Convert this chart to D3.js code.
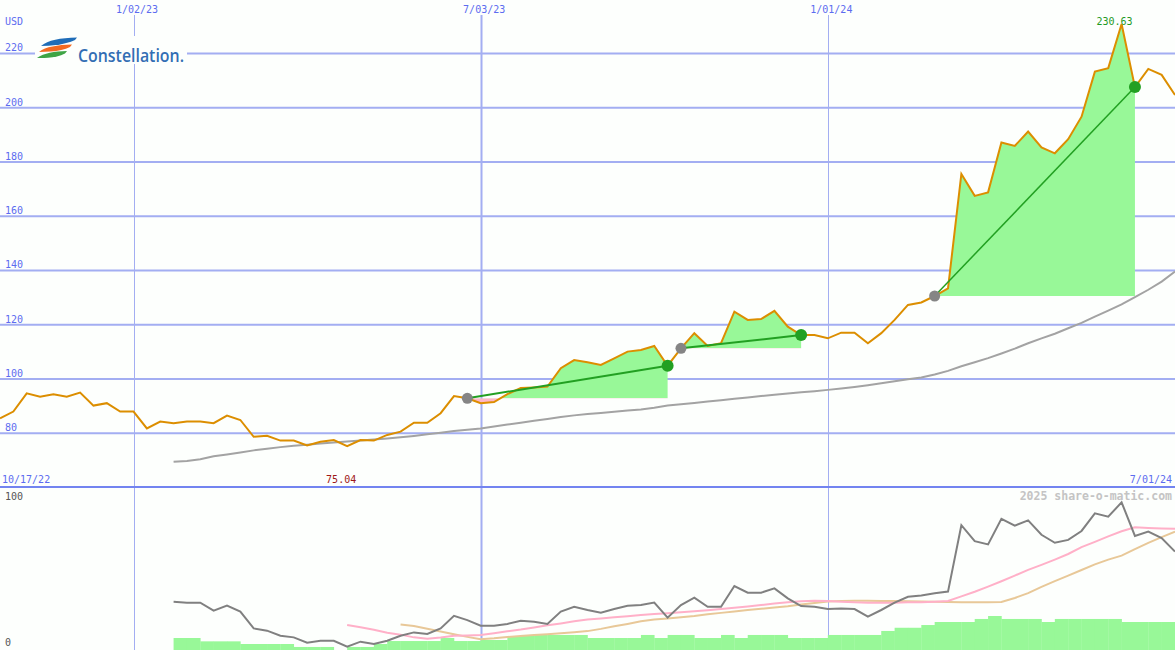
<!DOCTYPE html>
<html><head><meta charset="utf-8">
<script src="https://cdn.jsdelivr.net/npm/d3@7"></script>
<style>html,body{margin:0;padding:0;background:#fdfffd;}svg{display:block;}</style>
</head><body><svg id="c" width="1175" height="650"></svg>
<script>
// ---------- data ----------
const startDate = new Date(2022, 9, 24);
const weekCount = 89;
const price = [85.3,87.8,94.5,93.3,94.2,93.3,94.8,90.0,90.9,87.8,87.8,81.6,84.1,83.5,84.1,84.1,83.5,86.3,84.7,78.5,
  78.9,77.1,77.1,75.3,76.7,77.3,75.04,77.3,77.1,79.2,80.4,83.7,83.7,87.2,93.5,92.7,90.9,91.3,94.2,96.5,
  96.7,97.0,103.8,106.8,106.0,105.0,107.4,109.9,110.5,112.0,104.7,111.1,116.7,112.0,113.0,124.6,121.6,121.9,124.9,119.1,
  116.0,116.0,114.8,116.9,116.9,113.0,116.7,121.6,127.1,128.0,130.4,133.2,175.4,167.3,168.6,187.0,185.7,191.0,185.2,183.0,
  188.2,196.5,213.1,214.4,230.63,207.4,214.1,211.9,204.5];
const movingAvg = [null,null,null,null,null,null,null,null,null,null,null,null,null,
  69.3,69.6,70.2,71.3,72.0,72.7,73.5,74.1,74.7,75.2,75.6,76.0,76.4,76.8,77.1,77.5,77.9,
  78.3,78.8,79.4,80.0,80.6,81.1,81.6,82.3,83.0,83.7,84.4,85.1,85.8,86.4,86.9,87.3,87.7,88.2,88.6,89.2,
  90.0,90.5,91.0,91.5,92.0,92.5,93.0,93.5,94.0,94.5,94.9,95.3,95.8,96.3,96.9,97.5,98.2,99.0,99.7,100.4,
  101.5,102.8,104.5,106.0,107.5,109.2,111.0,113.0,114.8,116.5,118.5,120.5,122.8,125.0,127.3,130.0,132.7,135.7,139.4];
const buyIdx = [35, 51, 70];
const sellIdx = [50, 60, 85];
const oscillator = [null,null,null,null,null,null,null,null,null,null,null,null,null,
  30.2,29.6,29.6,24.6,27.7,24.0,13.5,12.1,8.9,7.9,4.6,5.8,5.8,2.1,5.2,3.8,5.8,
  8.9,11.0,10.0,13.5,21.4,18.7,15.2,15.2,16.3,18.3,17.7,16.3,24.0,27.0,25.0,23.3,25.6,27.7,28.1,29.6,
  20.2,28.1,32.7,27.0,27.0,40.0,35.8,35.8,38.5,32.3,27.5,27.0,25.6,26.0,25.6,20.8,25.0,29.6,33.3,34.0,
  35.4,36.5,78.0,68.0,66.0,82.0,77.7,81.0,72.0,67.0,68.8,74.4,85.4,83.3,92.3,71.3,74.0,70.0,61.5];
const oscFast = [null,null,null,null,null,null,null,null,null,null,null,null,null,null,null,null,null,null,null,null,
  null,null,null,null,null,null,15.6,14.2,12.7,10.8,9.6,7.9,7.1,7.8,8.9,9.1,9.4,10.5,11.7,12.8,
  14.1,15.4,16.6,17.9,19.0,19.7,20.4,21.1,21.8,22.5,23.0,23.6,24.2,24.9,25.6,26.4,27.2,28.1,29.0,29.9,
  30.4,30.8,30.6,30.2,29.8,29.6,29.6,29.6,29.8,29.9,30.2,30.6,33.5,36.4,39.6,43.0,46.5,50.1,53.2,56.5,
  60.0,64.3,67.6,71.0,74.2,76.7,76.3,76.0,75.8];
const oscSlow = [null,null,null,null,null,null,null,null,null,null,null,null,null,null,null,null,null,null,null,null,
  null,null,null,null,null,null,null,null,null,null,16.0,15.0,13.3,11.5,9.8,8.2,6.7,7.3,8.1,8.8,
  9.4,9.9,10.5,11.1,11.8,13.2,14.8,16.3,17.9,19.0,19.7,20.5,21.3,22.3,23.2,24.1,25.0,25.8,26.6,27.4,
  28.4,29.4,30.3,30.6,30.8,30.8,30.6,30.6,30.5,30.3,30.2,30.0,29.9,29.8,29.8,30.0,32.5,35.5,39.5,43.0,
  46.5,50.0,53.5,56.5,59.0,63.0,67.0,70.5,74.0];
const volume = [null,null,null,null,null,null,null,null,null,null,null,null,null,
  7.5,7.5,5.4,5.4,5.4,3.75,3.75,3.75,3.75,1.9,1.9,1.9,0,1.9,1.9,3.75,5.6,
  5.6,5.6,5.6,7.5,5.6,5.6,6.25,6.25,8.75,9.4,9.4,9.4,9.4,9.4,7.5,7.5,7.5,7.5,9.4,7.5,
  9.4,9.4,7.5,7.5,9.4,7.5,9.4,9.4,9.4,7.5,7.5,7.5,9.4,9.4,9.4,9.4,11.9,13.9,13.9,15.6,
  17.5,17.5,17.5,19.4,21.25,19.4,19.4,19.4,17.5,19.4,19.4,19.4,19.4,19.4,17.5,17.5,17.5,17.5];
const priceTicks = [80,100,120,140,160,180,200,220];
const dateTicks = [new Date(2023,0,2), new Date(2023,6,3), new Date(2024,0,1)];
const dateTickLabels = ["1/02/23","7/03/23","1/01/24"];
const dateTickWidths = [1, 2, 1];
const oscTicks = [0, 100];
const startLabel = "10/17/22", endLabel = "7/01/24";
const currency = "USD";
const maxLabel = "230.63", minLabel = "75.04";
const credit = "2025 share-o-matic.com";
const brand = "Constellation.";

// ---------- layout ----------
const W = 1175, H = 650, splitY = 487;
const dates = d3.range(weekCount).map(i => d3.timeDay.offset(startDate, 7 * i));
const x = d3.scaleTime().domain([dates[0], dates[weekCount - 1]]).range([0, W]);
const y = d3.scaleLinear().domain([60, 239.5]).range([splitY, 0]);
const y2 = d3.scaleLinear().domain([0, 100]).range([650, 490]);

const svg = d3.select("#c");
svg.append("rect").attr("width", W).attr("height", H).attr("fill", "#fdfffd");
const mono = "'DejaVu Sans Mono', monospace";
const gridCol = "#a3aef2", labelCol = "#5c6cf0";

// horizontal price grid via axis
const gy = svg.append("g").attr("class", "yaxis")
  .call(d3.axisRight(y).tickValues(priceTicks).tickSize(W).tickFormat(d3.format("d")));
gy.select(".domain").remove();
gy.selectAll(".tick line").attr("stroke", gridCol).attr("stroke-width", 2);
gy.selectAll(".tick text").attr("x", 5).attr("dy", "-2").attr("y", 0)
  .attr("text-anchor", "start").attr("fill", labelCol)
  .style("font-family", mono).style("font-size", "10px");

// vertical date grid
const gx = svg.append("g").attr("class", "xaxis")
  .call(d3.axisTop(x).tickValues(dateTicks).tickSize(0).tickFormat((d, i) => dateTickLabels[i]));
gx.select(".domain").remove();
gx.selectAll(".tick text").attr("y", 13).attr("dy", 0).attr("x", 3).attr("fill", labelCol)
  .style("font-family", mono).style("font-size", "10px");
svg.append("g").selectAll("line").data(dateTicks).join("line")
  .attr("x1", d => Math.round(x(d)) + 0.5).attr("x2", d => Math.round(x(d)) + 0.5)
  .attr("y1", 15).attr("y2", H)
  .attr("stroke", gridCol).attr("stroke-width", (d, i) => dateTickWidths[i]);

// separator
svg.append("line").attr("x1", 0).attr("x2", W).attr("y1", splitY).attr("y2", splitY)
  .attr("stroke", "#7384f0").attr("stroke-width", 2);

// trade fills
const defs = svg.append("defs");
buyIdx.forEach((b, k) => {
  const s = sellIdx[k], base = price[b];
  const idx = d3.range(b, s + 1);
  const area = d3.area().x(i => x(dates[i])).y0(y(base)).y1(i => y(price[i]));
  defs.append("clipPath").attr("id", "above" + k).append("rect")
    .attr("x", 0).attr("y", 0).attr("width", W).attr("height", y(base));
  defs.append("clipPath").attr("id", "below" + k).append("rect")
    .attr("x", 0).attr("y", y(base)).attr("width", W).attr("height", splitY - y(base));
  svg.append("path").attr("d", area(idx)).attr("fill", "#98f898").attr("clip-path", `url(#above${k})`);
  svg.append("path").attr("d", area(idx)).attr("fill", "#ffb6c8").attr("clip-path", `url(#below${k})`);
});

// moving average
const lineMA = d3.line().defined(d => d.v != null).x(d => x(d.t)).y(d => y(d.v));
svg.append("path").datum(movingAvg.map((v, i) => ({t: dates[i], v})))
  .attr("d", lineMA).attr("fill", "none").attr("stroke", "#a3a3a3").attr("stroke-width", 2);

// price
svg.append("path").datum(price.map((v, i) => ({t: dates[i], v})))
  .attr("d", lineMA).attr("fill", "none").attr("stroke", "#dc8e00").attr("stroke-width", 2)
  .attr("stroke-linejoin", "miter");

// trade lines and markers
const tradeW = [2, 2, 1.5];
buyIdx.forEach((b, k) => {
  const s = sellIdx[k];
  svg.append("line").attr("x1", x(dates[b])).attr("y1", y(price[b]))
    .attr("x2", x(dates[s])).attr("y2", y(price[s]))
    .attr("stroke", "#22a022").attr("stroke-width", tradeW[k]);
});
svg.append("g").selectAll("circle").data(buyIdx).join("circle")
  .attr("cx", i => x(dates[i])).attr("cy", i => y(price[i])).attr("r", 5.5).attr("fill", "#858585");
svg.append("g").selectAll("circle").data(sellIdx).join("circle")
  .attr("cx", i => x(dates[i])).attr("cy", i => y(price[i])).attr("r", 6).attr("fill", "#22a022");

// extreme labels
const maxI = price.indexOf(d3.max(price)), minI = price.indexOf(d3.min(price));
svg.append("text").attr("x", x(dates[maxI]) - 7).attr("y", 25).attr("text-anchor", "middle")
  .attr("fill", "#1f9a1f").style("font-family", mono).style("font-size", "10px").text(maxLabel);
svg.append("text").attr("x", x(dates[minI]) - 6).attr("y", 483).attr("text-anchor", "middle")
  .attr("fill", "#a01818").style("font-family", mono).style("font-size", "10px").text(minLabel);

// text labels
svg.append("text").attr("x", 5).attr("y", 25).attr("fill", labelCol)
  .style("font-family", mono).style("font-size", "10px").text(currency);
svg.append("text").attr("x", 2).attr("y", 483).attr("fill", labelCol)
  .style("font-family", mono).style("font-size", "10px").text(startLabel);
svg.append("text").attr("x", 1172).attr("y", 483).attr("text-anchor", "end").attr("fill", labelCol)
  .style("font-family", mono).style("font-size", "10px").text(endLabel);
svg.append("text").attr("x", 1172).attr("y", 500).attr("text-anchor", "end").attr("fill", "#c4c4c4")
  .style("font-family", mono).style("font-size", "11.5px").style("font-weight", "bold").text(credit);

// lower panel
svg.append("g").selectAll("rect").data(volume.map((v, i) => ({i, v})).filter(d => d.v != null && d.i < weekCount - 1)).join("rect")
  .attr("x", d => x(dates[d.i])).attr("width", d => x(dates[d.i + 1]) - x(dates[d.i]) + 0.3)
  .attr("y", d => y2(d.v)).attr("height", d => y2(0) - y2(d.v)).attr("fill", "#98f898");
const lineO = d3.line().defined(d => d.v != null).x(d => x(d.t)).y(d => y2(d.v));
svg.append("path").datum(oscSlow.map((v, i) => ({t: dates[i], v})))
  .attr("d", lineO).attr("fill", "none").attr("stroke", "#e8c898").attr("stroke-width", 2);
svg.append("path").datum(oscFast.map((v, i) => ({t: dates[i], v})))
  .attr("d", lineO).attr("fill", "none").attr("stroke", "#ffb0c8").attr("stroke-width", 2);
svg.append("path").datum(oscillator.map((v, i) => ({t: dates[i], v})))
  .attr("d", lineO).attr("fill", "none").attr("stroke", "#808080").attr("stroke-width", 2);
svg.append("g").selectAll("text").data(oscTicks).join("text")
  .attr("x", 5).attr("y", d => d === 100 ? 500 : 646).attr("fill", "#555")
  .style("font-family", mono).style("font-size", "10px").text(d => d);

// logo
const logo = svg.append("g");
logo.append("rect").attr("x", 35).attr("y", 36).attr("width", 152).attr("height", 28).attr("fill", "#fdfffd");
logo.append("path").attr("d", "M41,46 C48,40 60,38 77,37.5 L75,40 C70,42.5 63,44 56,45 C51,45.7 46,46 41,46 Z").attr("fill", "#1f6db8");
logo.append("path").attr("d", "M39,52 C46,46.5 57,45 72,44.5 L70,47 C65,49.5 58,51 51,51.6 C47,52 43,52 39,52 Z").attr("fill", "#f26a22");
logo.append("path").attr("d", "M37,58 C44,53 54,51.5 67,51 L65,53.5 C60,56 54,57.3 48,57.8 C44,58.1 40,58.1 37,58 Z").attr("fill", "#3fa445");
logo.append("text").attr("x", 78).attr("y", 61.5).attr("fill", "#326eb4")
  .attr("textLength", 106).attr("lengthAdjust", "spacingAndGlyphs")
  .style("font-family", "'Open Sans', sans-serif").style("font-size", "18px").style("font-weight", "600")
  .text(brand);
</script>
</body></html>
